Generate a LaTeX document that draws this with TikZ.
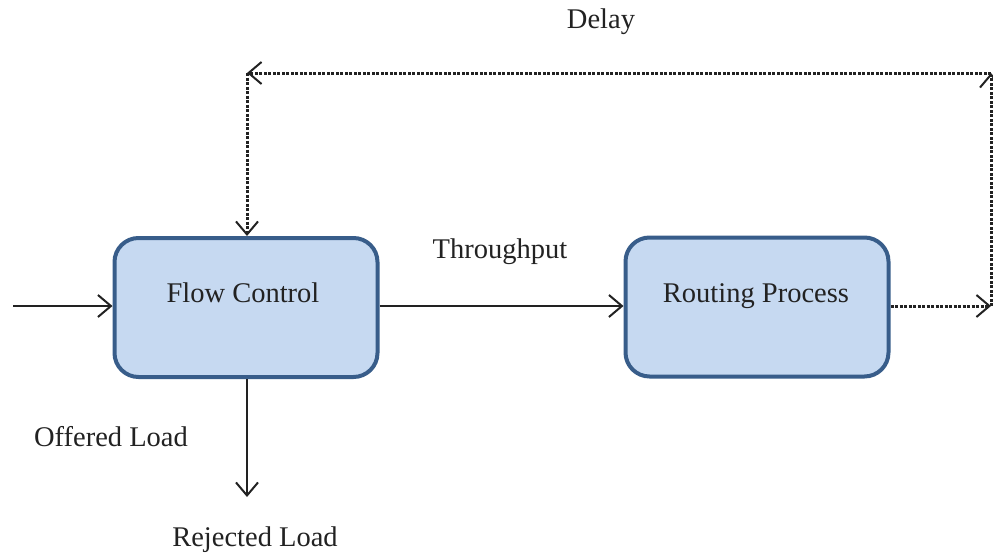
\documentclass[tikz,border=0pt]{standalone}
\usepackage{fontspec}
\setmainfont{Liberation Serif}
\usetikzlibrary{arrows.meta}
\definecolor{boxfill}{HTML}{C6D9F1}
\definecolor{boxline}{HTML}{385D8A}
\definecolor{ink}{HTML}{222222}
\tikzset{
  box/.style={draw=boxline, fill=boxfill, line width=4pt, rounded corners=24pt,
    minimum width=263pt, minimum height=139pt, inner sep=0pt},
  txt/.style={text=ink, font=\fontsize{28.5}{32}\selectfont, inner sep=0pt},
  btxt/.style={txt, anchor=base},
  arr/.style={draw=ink, line width=2pt, -{Straight Barb[length=13pt,width=22pt,line width=2pt]}},
  dotarr/.style={arr, dash pattern=on 3pt off 1.5pt, line width=3pt}
}
\begin{document}
\begin{tikzpicture}[x=1pt,y=-1pt]
\useasboundingbox (0,0) rectangle (993,554);
\node[box] (fc) at (246,307.5) {};
\node[box] (rp) at (757,307) {};
\node[btxt] (fct) at (243,302) {Flow Control};
\node[btxt] (rpt) at (756,302) {Routing Process};
\node[txt] (thr) at (500,252) {Throughput};
\node[txt] (del) at (601,22) {Delay};
\node[txt] (off) at (111,437) {Offered Load};
\node[txt] (rej) at (255,540) {Rejected Load};
\coordinate (in) at (13,306);
\coordinate (c1) at (991,306);
\coordinate (c2) at (991,73);
\coordinate (c3) at (247,73);
\coordinate (out) at (247,497);
\draw[arr] (in) -- (in -| fc.west);
\draw[arr] (fc.east |- in) -- (rp.west |- in);
\draw[arr] (out |- fc.south) -- (out);
\draw[dotarr] (rp.east |- c1) -- (c1);
\draw[dotarr] (c1) -- (c2);
\draw[dotarr] (c2) -- (c3);
\draw[dotarr] (c3) -- (c3 |- fc.north);
\end{tikzpicture}
\end{document}
